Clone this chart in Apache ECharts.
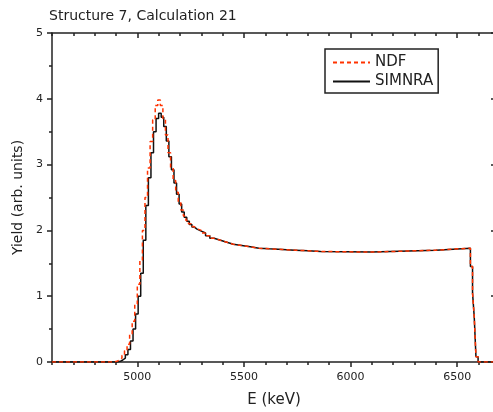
<!DOCTYPE html>
<html><head><meta charset="utf-8">
<script src="https://cdn.jsdelivr.net/npm/echarts@6/dist/echarts.min.js"></script>
<style>html,body{margin:0;padding:0;background:#fff}#c{width:493px;height:412px}</style>
</head><body><div id="c"></div>
<script>
const titleText = 'Structure 7, Calculation 21';
const xName = 'E (keV)';
const yName = 'Yield (arb. units)';
const xMajorTicks = [5000, 5500, 6000, 6500];
const seriesNames = ['NDF', 'SIMNRA'];

const simnraE = [4600, 4896, 4908, 4920, 4932, 4944, 4956, 4968, 4980, 4992, 5004, 5016, 5028, 5040, 5052, 5064, 5076, 5088, 5100, 5112, 5124, 5136, 5148, 5160, 5172, 5184, 5196, 5208, 5220, 5232, 5244, 5256, 5268, 5280, 5300, 5320, 5340, 5360, 5390, 5420, 5450, 5490, 5530, 5570, 5620, 5680, 5740, 5800, 5860, 6100, 6400, 6562, 6572, 6580, 6588, 6598, 6682];
const simnraY = [0, 0.00, 0.01, 0.03, 0.06, 0.11, 0.19, 0.32, 0.50, 0.73, 1.00, 1.35, 1.85, 2.38, 2.80, 3.18, 3.50, 3.70, 3.78, 3.72, 3.58, 3.36, 3.12, 2.92, 2.72, 2.55, 2.40, 2.28, 2.20, 2.14, 2.09, 2.05, 2.02, 1.99, 1.96, 1.92, 1.88, 1.85, 1.82, 1.79, 1.77, 1.75, 1.73, 1.72, 1.71, 1.70, 1.69, 1.68, 1.67, 1.70, 1.73, 1.45, 1.05, 0.68, 0.08, 0, 0];

const ndfE = [4600, 4880, 4892, 4904, 4916, 4928, 4940, 4952, 4964, 4976, 4988, 5000, 5012, 5024, 5036, 5048, 5060, 5072, 5084, 5096, 5108, 5120, 5132, 5144, 5156, 5168, 5180, 5192, 5204, 5216, 5228, 5240, 5252, 5264, 5276, 5300, 5320, 5340, 5360, 5390, 5420, 5450, 5490, 5530, 5570, 5620, 5680, 5740, 5800, 5860, 6100, 6400, 6562, 6572, 6580, 6588, 6598, 6682];
const ndfY = [0, 0.00, 0.01, 0.03, 0.06, 0.10, 0.17, 0.27, 0.42, 0.62, 0.88, 1.18, 1.55, 2.00, 2.50, 2.95, 3.35, 3.68, 3.90, 3.98, 3.90, 3.70, 3.45, 3.18, 2.95, 2.76, 2.58, 2.43, 2.31, 2.22, 2.15, 2.10, 2.06, 2.03, 2.00, 1.96, 1.92, 1.88, 1.85, 1.82, 1.79, 1.77, 1.75, 1.73, 1.72, 1.71, 1.70, 1.69, 1.68, 1.67, 1.70, 1.73, 1.45, 1.05, 0.68, 0.08, 0, 0];

const pair = (xs, ys) => xs.map((x, i) => [x, ys[i]]);
const FONT = 'DejaVu Sans';
const AX = '#222';
const XMIN = 4600, XMAX = 6682;

const chart = echarts.init(document.getElementById('c'), null, {renderer: 'canvas'});
const baseX = {
  type: 'value', min: XMIN, max: XMAX, interval: 100,
  splitLine: {show: false}
};
chart.setOption({
  animation: false,
  backgroundColor: '#fff',
  title: {text: titleText, left: 44, top: 4,
    textStyle: {fontFamily: FONT, fontSize: 14, fontWeight: 'normal', color: '#222'}},
  grid: {left: 52, top: 33, right: -3, bottom: 50, containLabel: false, outerBoundsMode: 'none'},
  legend: {
    data: seriesNames, orient: 'vertical', left: 325, top: 49,
    padding: [6, 5, 4, 7], itemGap: 4, itemWidth: 37, itemHeight: 14,
    borderColor: AX, borderWidth: 1.5, borderRadius: 0,
    itemStyle: {opacity: 0},
    textStyle: {fontFamily: FONT, fontSize: 15, color: '#222'}
  },
  xAxis: [
    Object.assign({}, baseX, {position: 'bottom', name: xName, nameLocation: 'middle', nameGap: 31,
      nameTextStyle: {fontFamily: FONT, fontSize: 15, color: '#222'},
      axisLine: {show: true, lineStyle: {color: AX, width: 1.5}},
      axisTick: {show: true, inside: false, length: 5, customValues: xMajorTicks, lineStyle: {color: AX, width: 1.5}},
      axisLabel: {show: true, customValues: xMajorTicks, margin: 10, fontFamily: FONT, fontSize: 11, color: '#222',
        formatter: v => String(v)}}),
    Object.assign({}, baseX, {position: 'bottom',
      axisLine: {show: false},
      axisTick: {show: true, inside: false, length: 3, lineStyle: {color: AX, width: 1.5}},
      axisLabel: {show: false}}),
    Object.assign({}, baseX, {position: 'top',
      axisLine: {show: true, lineStyle: {color: AX, width: 1.5}},
      axisTick: {show: true, inside: true, length: 5, customValues: xMajorTicks, lineStyle: {color: AX, width: 1.5}},
      axisLabel: {show: false}}),
    Object.assign({}, baseX, {position: 'top',
      axisLine: {show: false},
      axisTick: {show: true, inside: true, length: 3, lineStyle: {color: AX, width: 1.5}},
      axisLabel: {show: false}})
  ],
  yAxis: [
    {type: 'value', position: 'left', min: 0, max: 5, interval: 1,
      name: yName, nameLocation: 'middle', nameGap: 27,
      nameTextStyle: {fontFamily: FONT, fontSize: 14, color: '#222'},
      splitLine: {show: false},
      axisLine: {show: true, lineStyle: {color: AX, width: 1.5}},
      axisTick: {show: true, inside: false, length: 5, lineStyle: {color: AX, width: 1.5}},
      minorTick: {show: true, splitNumber: 2, length: 3, lineStyle: {color: AX, width: 1.5}},
      axisLabel: {margin: 9, fontFamily: FONT, fontSize: 11, color: '#222'}},
    {type: 'value', position: 'right', min: 0, max: 5, interval: 1,
      splitLine: {show: false},
      axisLine: {show: true, lineStyle: {color: AX, width: 1.5}},
      axisTick: {show: true, inside: true, length: 5, lineStyle: {color: AX, width: 1.5}},
      minorTick: {show: true, splitNumber: 2, length: 3, lineStyle: {color: AX, width: 1.5}},
      axisLabel: {show: false}}
  ],
  series: [
    {name: 'SIMNRA', type: 'line', step: 'end', symbol: 'none', z: 3,
      data: pair(simnraE, simnraY),
      itemStyle: {color: '#111'},
      lineStyle: {color: '#111', width: 1.5}},
    {name: 'NDF', type: 'line', step: 'end', symbol: 'none', z: 4,
      data: pair(ndfE, ndfY),
      itemStyle: {color: '#ff3300'},
      lineStyle: {color: '#ff3300', width: 1.5, type: [4, 3]}}
  ]
});
</script></body></html>
